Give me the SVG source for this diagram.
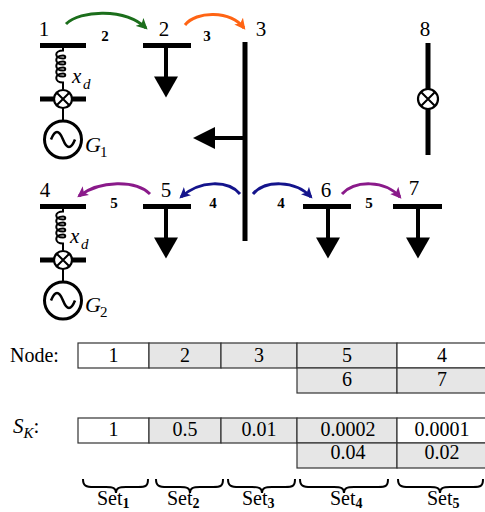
<svg xmlns="http://www.w3.org/2000/svg" width="485" height="512" viewBox="0 0 485 512" font-family="'Liberation Serif', 'DejaVu Serif', serif">
<style>
text{font-family:'Liberation Serif','DejaVu Serif',serif;fill:#000}
.num{font-size:21px;text-anchor:middle}
.lbl{font-size:15px;font-weight:bold;text-anchor:middle}
.it{font-style:italic}
.bar{stroke:#000;stroke-width:5;fill:none}
.stem{stroke:#000;stroke-width:4;fill:none}
.thin{stroke:#000;stroke-width:2;fill:none}
.cx{stroke:#000;stroke-width:2.2;fill:#fff}
.gen{stroke:#000;stroke-width:3;fill:#fff}
.wave{stroke:#000;stroke-width:2.5;fill:none}
.arc{fill:none;stroke-width:3}
.cell{stroke:#333;stroke-width:1.2}
.w{fill:#fff}
.g{fill:#e6e6e6}
.tc{font-size:20px;text-anchor:middle}
.brace{fill:none;stroke:#000;stroke-width:2}
</style>
<defs>
<marker id="mg" viewBox="0 0 10 10" refX="8" refY="5" markerWidth="11" markerHeight="11" markerUnits="userSpaceOnUse" orient="auto"><path d="M0,0 L10,5 L0,10 L2.5,5 z" fill="#1b6e1b"/></marker>
<marker id="mo" viewBox="0 0 10 10" refX="8" refY="5" markerWidth="11" markerHeight="11" markerUnits="userSpaceOnUse" orient="auto"><path d="M0,0 L10,5 L0,10 L2.5,5 z" fill="#ff6414"/></marker>
<marker id="mp" viewBox="0 0 10 10" refX="8" refY="5" markerWidth="11" markerHeight="11" markerUnits="userSpaceOnUse" orient="auto"><path d="M0,0 L10,5 L0,10 L2.5,5 z" fill="#8a1a8a"/></marker>
<marker id="mb" viewBox="0 0 10 10" refX="8" refY="5" markerWidth="11" markerHeight="11" markerUnits="userSpaceOnUse" orient="auto"><path d="M0,0 L10,5 L0,10 L2.5,5 z" fill="#14148c"/></marker>
<g id="cross"><circle cx="0" cy="0" r="9" class="cx"/><path d="M-6.3,-6.3 L6.3,6.3 M6.3,-6.3 L-6.3,6.3" class="thin"/></g>
<g id="genunit">
<path d="M0,2 V5 C-9,5 -9,13 0,13 C3,13 3,10 0,10 C-9,10 -9,19 0,19 C3,19 3,16 0,16 C-9,16 -9,25 0,25 C3,25 3,22 0,22 C-9,22 -9,31 0,31 C3,31 3,28 0,28 C-9,28 -9,37 0,37 V44" class="thin"/>
<line x1="-23" y1="53.5" x2="23" y2="53.5" class="bar"/>
<line x1="0" y1="62" x2="0" y2="76" class="thin"/>
<use href="#cross" x="0" y="53.5"/>
<circle cx="0" cy="94" r="18.5" class="gen"/>
<path d="M-12,94 C-8,84 -4,84 0,94 S8,104 12,94" class="wave"/>
</g>
<g id="load">
<line x1="0" y1="0" x2="0" y2="32" class="stem"/>
<path d="M-12,31 L12,31 L0,52 z" fill="#000"/>
</g>
</defs>

<g id="connectors">
<path d="M66,24 C80,10 125,8 146,28" class="arc" stroke="#1b6e1b" marker-end="url(#mg)"/>
<path d="M185,25 C196,11 230,10 244,28" class="arc" stroke="#ff6414" marker-end="url(#mo)"/>
<path d="M150,194 C136,180 100,180 79,196" class="arc" stroke="#8a1a8a" marker-end="url(#mp)"/>
<path d="M240,194 C228,180 200,180 181,197" class="arc" stroke="#14148c" marker-end="url(#mb)"/>
<path d="M253,194 C265,180 295,180 311,197" class="arc" stroke="#14148c" marker-end="url(#mb)"/>
<path d="M342,194 C355,180 385,180 400,197" class="arc" stroke="#8a1a8a" marker-end="url(#mp)"/>
<text x="105" y="41" class="lbl">2</text>
<text x="207" y="41" class="lbl">3</text>
<text x="114" y="208" class="lbl">5</text>
<text x="213" y="208" class="lbl">4</text>
<text x="281" y="208" class="lbl">4</text>
<text x="369" y="208" class="lbl">5</text>
</g>

<g id="bus1">
<text x="44" y="36" class="num">1</text>
<line x1="40" y1="45.5" x2="86" y2="45.5" class="bar"/>
<use href="#genunit" x="63" y="45.5"/>
<text x="72" y="83" class="it" font-size="21">x</text>
<text x="83" y="89" class="it" font-size="15">d</text>
<text x="85" y="152" class="it" font-size="22">G</text>
<text x="100" y="157" font-size="15">1</text>
</g>

<g id="bus2">
<text x="164" y="36" class="num">2</text>
<line x1="143" y1="45.5" x2="191" y2="45.5" class="bar"/>
<use href="#load" x="166" y="45.5"/>
</g>

<g id="bus3">
<text x="261" y="36" class="num">3</text>
<line x1="245" y1="42" x2="245" y2="241" class="bar"/>
<line x1="213" y1="138" x2="245" y2="138" class="stem"/>
<path d="M193,138 L215,127 L215,149 z" fill="#000"/>
</g>

<g id="bus8">
<text x="425" y="36" class="num">8</text>
<line x1="428" y1="43" x2="428" y2="155" class="bar"/>
<circle cx="428" cy="99" r="10" class="cx" stroke-width="2.5"/>
<path d="M421,92 L435,106 M435,92 L421,106" class="thin"/>
</g>

<g id="bus4">
<text x="45" y="197" class="num">4</text>
<line x1="40" y1="206.5" x2="86" y2="206.5" class="bar"/>
<use href="#genunit" x="63" y="206.5"/>
<text x="70" y="243" class="it" font-size="21">x</text>
<text x="81" y="249" class="it" font-size="15">d</text>
<text x="85" y="312" class="it" font-size="22">G</text>
<text x="100" y="317" font-size="15">2</text>
</g>

<g id="bus5">
<text x="166" y="197" class="num">5</text>
<line x1="143" y1="206.5" x2="191" y2="206.5" class="bar"/>
<use href="#load" x="166" y="206.5"/>
</g>

<g id="bus6">
<text x="326" y="197" class="num">6</text>
<line x1="303" y1="206.5" x2="351" y2="206.5" class="bar"/>
<use href="#load" x="328" y="206.5"/>
</g>

<g id="bus7">
<text x="414" y="195" class="num">7</text>
<line x1="393" y1="206.5" x2="442" y2="206.5" class="bar"/>
<use href="#load" x="418" y="206.5"/>
</g>

<g id="node-table">
<text x="10" y="362" font-size="20">Node:</text>
<rect x="78" y="343" width="71" height="25" class="cell w"/>
<rect x="149" y="343" width="72" height="25" class="cell g"/>
<rect x="221" y="343" width="76" height="25" class="cell g"/>
<rect x="297" y="343" width="100" height="25" class="cell g"/>
<rect x="397" y="343" width="92" height="25" class="cell w"/>
<rect x="297" y="368" width="100" height="25" class="cell g"/>
<rect x="397" y="368" width="92" height="25" class="cell g"/>
<text x="113.5" y="362" class="tc">1</text>
<text x="185" y="362" class="tc">2</text>
<text x="259" y="362" class="tc">3</text>
<text x="347" y="362" class="tc">5</text>
<text x="442" y="362" class="tc">4</text>
<text x="347" y="386" class="tc">6</text>
<text x="442" y="386" class="tc">7</text>
</g>

<g id="sk-table">
<text x="13" y="433" font-size="21"><tspan font-style="italic">S</tspan><tspan font-style="italic" font-size="15" dy="5">K</tspan><tspan dy="-5">:</tspan></text>
<rect x="78" y="418" width="71" height="25" class="cell w"/>
<rect x="149" y="418" width="72" height="25" class="cell g"/>
<rect x="221" y="418" width="76" height="25" class="cell g"/>
<rect x="297" y="418" width="100" height="25" class="cell g"/>
<rect x="397" y="418" width="92" height="25" class="cell w"/>
<rect x="297" y="443" width="100" height="25" class="cell g"/>
<rect x="397" y="443" width="92" height="25" class="cell g"/>
<text x="113.5" y="436" class="tc">1</text>
<text x="185" y="436" class="tc">0.5</text>
<text x="259" y="436" class="tc">0.01</text>
<text x="348" y="436" class="tc">0.0002</text>
<text x="442" y="436" class="tc">0.0001</text>
<text x="348" y="459" class="tc">0.04</text>
<text x="442" y="459" class="tc">0.02</text>
</g>

<g id="sets">
<path d="M83,479 C83,486 86,487 94,487 L106,487 C113,487 116,488 116,493 C116,488 119,487 126,487 L138,487 C146,487 148,486 148,479" class="brace"/>
<path d="M156,479 C156,486 159,487 167,487 L180,487 C187,487 190,488 190,493 C190,488 193,487 200,487 L213,487 C221,487 223,486 223,479" class="brace"/>
<path d="M228,479 C228,486 231,487 239,487 L252,487 C259,487 262,488 262,493 C262,488 265,487 272,487 L285,487 C293,487 295,486 295,479" class="brace"/>
<path d="M300,479 C300,486 303,487 311,487 L334,487 C341,487 344,488 344,493 C344,488 347,487 354,487 L378,487 C386,487 388,486 388,479" class="brace"/>
<path d="M398,479 C398,486 401,487 409,487 L430,487 C437,487 440,488 440,493 C440,488 443,487 450,487 L473,487 C481,487 483,486 483,479" class="brace"/>
<text x="97" y="505" font-size="20">Set<tspan font-size="14" font-weight="bold" dy="3">1</tspan></text>
<text x="167" y="505" font-size="20">Set<tspan font-size="14" font-weight="bold" dy="3">2</tspan></text>
<text x="242" y="505" font-size="20">Set<tspan font-size="14" font-weight="bold" dy="3">3</tspan></text>
<text x="330" y="505" font-size="20">Set<tspan font-size="14" font-weight="bold" dy="3">4</tspan></text>
<text x="427" y="505" font-size="20">Set<tspan font-size="14" font-weight="bold" dy="3">5</tspan></text>
</g>
</svg>
